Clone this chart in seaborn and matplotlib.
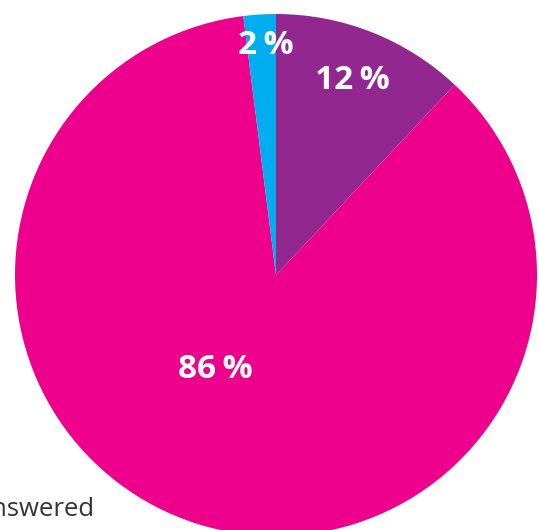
import numpy as np
import matplotlib
matplotlib.use("Agg")
import matplotlib.pyplot as plt
import seaborn as sns

# Daten
categories = ["Yes", "No", "Unanswered"]
shares = [12, 86, 2]
labels = ["12\u2009%", "86\u2009%", "2\u2009%"]
colors = ["#92278F", "#EC008C", "#00AEEF"]

sns.set_theme(style="white")
plt.rcParams["font.family"] = ["Open Sans", "DejaVu Sans"]

fig = plt.figure(figsize=(5.39, 5.30), dpi=100)
ax = fig.add_axes([0, 0, 1, 1])

wedges, _ = ax.pie(shares, colors=colors, startangle=90, counterclock=False,
                   radius=1, wedgeprops=dict(linewidth=0))

# label placement (radius, angle shift in degrees) per slice
label_r = [0.80, 0.43, 0.88]
label_shift = [0, -15, -1]
for w, lab, r, s in zip(wedges, labels, label_r, label_shift):
    mid = np.deg2rad((w.theta1 + w.theta2) / 2 + s)
    ax.text(r * np.cos(mid), r * np.sin(mid), lab, color="white",
            fontsize=24, fontweight="bold", ha="center", va="center")

# pie centre at pixel (276, 275), radius 261 px
R = 261
ax.set_xlim(-276 / R, (539 - 276) / R)
ax.set_ylim(-(530 - 275) / R, 275 / R)
ax.set_aspect("auto")
ax.axis("off")

# legend text, cut off at the left edge like in the source
fig.text(95 / 539, 1 - 510 / 530, "Unanswered", ha="right", va="center",
         fontsize=18.5, color="#333333")

fig.savefig("out.png", dpi=100)
